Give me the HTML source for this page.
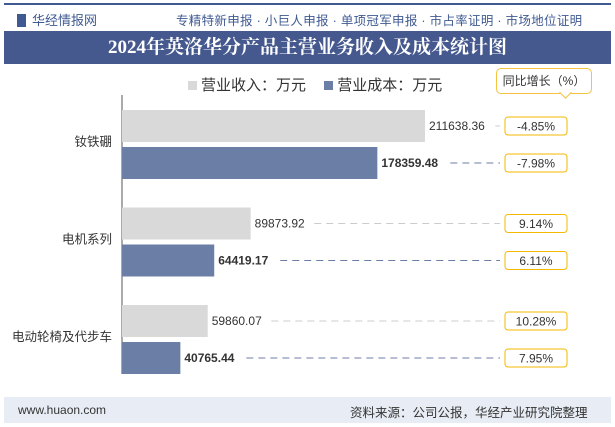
<!DOCTYPE html>
<html><head><meta charset="utf-8"><style>
body{margin:0;width:615px;height:427px;overflow:hidden;background:#fff;font-family:"Liberation Sans","Noto Sans CJK SC",sans-serif;position:relative}
.abs{position:absolute}
</style></head><body>
<div class="abs" style="left:4px;top:3px;width:607px;height:2px;background:#3f5a92"></div>
<div class="abs" style="left:17px;top:10px;font-size:13px;color:#3f5a92"><span style="display:inline-block;width:9px;height:13px;background:#3f5a92;vertical-align:-2px;margin-right:6px"></span>华经情报网</div>
<div class="abs" style="left:176px;top:10px;font-size:12.5px;color:#3f5a92;letter-spacing:0.3px">专精特新申报 · 小巨人申报 · 单项冠军申报 · 市占率证明 · 市场地位证明</div>
<div class="abs" style="left:4px;top:31px;width:607px;height:33px;background:#45598f;color:#fff;font-family:'Liberation Serif','Noto Serif CJK SC',serif;font-weight:bold;font-size:19px;text-align:center;line-height:33px">2024年英洛华分产品主营业务收入及成本统计图</div>
<div class="abs" style="left:188px;top:74px;font-size:15px;color:#333">
<span><span style="display:inline-block;width:9px;height:9px;background:#d9d9d9;margin-right:4px"></span>营业收入：万元</span>
<span style="margin-left:14px"><span style="display:inline-block;width:9px;height:9px;background:#6b7ea6;margin-right:4px"></span>营业成本：万元</span></div>
<div class="abs" style="left:496px;top:68px;width:94px;height:24px;border:1px solid #f5c242;border-radius:5px;font-size:12px;line-height:24px;text-align:center;color:#333;background:#fff">同比增长（%）</div>
<div class="abs" style="left:561px;top:88px;width:8px;height:8px;border-right:1px solid #f5c242;border-bottom:1px solid #f5c242;background:#fff;transform:rotate(45deg)"></div>
<svg class="abs" style="left:0;top:0" width="615" height="427" id="chart"></svg>
<div class="abs" style="left:4px;top:397px;width:607px;height:26px;background:#e8edf5"></div>
<div class="abs" style="left:18px;top:403px;font-size:12px;color:#333">www.huaon.com</div>
<div class="abs" style="left:350px;top:402px;font-size:12.5px;color:#333">资料来源：公司公报，华经产业研究院整理</div>
<script>
const categories=["钕铁硼","电机系列","电动轮椅及代步车"];
const revenue=[211638.36,89873.92,59860.07];
const cost=[178359.48,64419.17,40765.44];
const revGrowth=["-4.85%","9.14%","10.28%"];
const costGrowth=["-7.98%","6.11%","7.95%"];
const svg=document.getElementById('chart');const NS='http://www.w3.org/2000/svg';
const x0=122,k=303/211638.36;
const xs=v=>x0+v*k;
function mk(t,a,txt){const e=document.createElementNS(NS,t);for(const i in a)e.setAttribute(i,a[i]);if(txt!==undefined)e.textContent=txt;svg.appendChild(e);return e;}
const ax=mk('line',{x1:x0,y1:95,x2:x0,y2:374,stroke:'#555','stroke-width':1});


categories.forEach((c,i)=>{
 const gy=110+i*97.5;
 const cl=mk('text',{x:x0-10,y:gy+36,'text-anchor':'end','font-size':12.5,fill:'#333'},c);
 
 
 [[revenue[i],'#d9d9d9',gy,revGrowth[i],'normal','#ccc'],[cost[i],'#6b7ea6',gy+37,costGrowth[i],'bold','#6b7ea6']].forEach((s,j)=>{
  const [v,col,y,g,fw,dc]=s;const h=32;const xe=xs(v);
  const b=mk('rect',{x:x0,y:y,width:xe-x0,height:h,fill:col});
  
  
  const lab=v.toFixed(2);
  const t=mk('text',{x:xe+4,y:y+h/2+4,'font-size':12,'font-weight':fw,fill:'#333'},lab);
  
  
  const tw=lab.length*(fw==='bold'?7:6.7);
  mk('line',{x1:xe+10+tw,y1:y+h/2,x2:500,y2:y+h/2,stroke:dc,'stroke-dasharray':'7,5','stroke-width':1});
  const r=mk('rect',{x:505,y:y+h/2-9,width:62,height:18,rx:3,fill:'#fff',stroke:'#f5b800','stroke-width':1});
  
  
  const gt=mk('text',{x:536,y:y+h/2+4.5,'text-anchor':'middle','font-size':12,fill:'#333'},g);
  
  
 });
});
</script>
</body></html>
